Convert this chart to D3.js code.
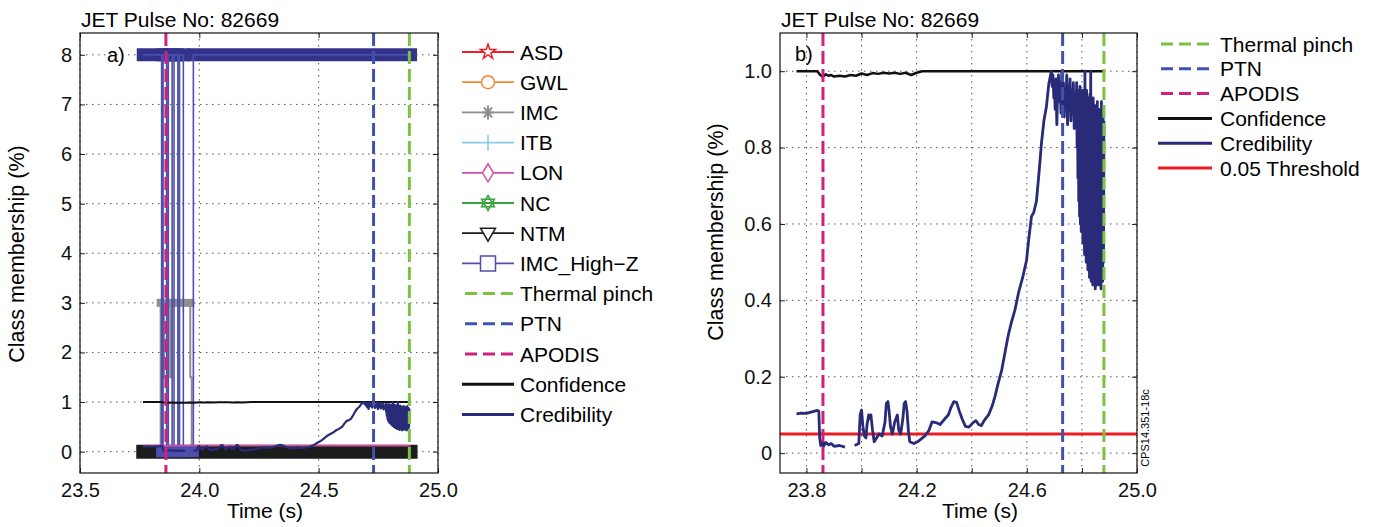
<!DOCTYPE html>
<html>
<head>
<meta charset="utf-8">
<script src="https://cdn.jsdelivr.net/npm/d3@7"></script>
<style>
  body { margin: 0; background: #fff; }
  svg { font-family: "Liberation Sans", Arial, sans-serif; }
</style>
</head>
<body>
<div id="vis"></div>
<script>
// ---- data ----

// disruption predictor alarm times (s)
const eventNames = ["Thermal pinch", "PTN", "APODIS"];
const eventTimes = [24.88, 24.73, 23.86];

// confidence of the classifier
const confTime = [23.764, 23.84, 23.85, 23.86, 23.87, 23.88, 23.89, 23.9, 23.92, 23.94, 23.96, 23.98, 24.0, 24.02,
  24.04, 24.06, 24.08, 24.1, 24.12, 24.14, 24.16, 24.18, 24.2, 24.22, 24.88];
const confValue = [1.0, 1.0, 0.99, 0.985, 0.992, 0.988, 0.99, 0.986, 0.988, 0.986, 0.99, 0.988, 0.994, 0.99,
  0.995, 0.993, 0.996, 0.994, 0.996, 0.993, 0.996, 0.99, 0.996, 1.0, 1.0];

// credibility (NaN = no output)
const credTime = [23.764, 23.78, 23.8, 23.82, 23.84, 23.845, 23.848, 23.852, 23.858, 23.862, 23.87, 23.88, 23.89, 23.9,
  23.92, 23.94, 23.96, 23.975, 23.99, 23.995, 24.0, 24.005, 24.01, 24.016, 24.02, 24.026, 24.03, 24.034, 24.04,
  24.046, 24.055, 24.064, 24.075, 24.085, 24.09, 24.096, 24.1, 24.105, 24.112, 24.12, 24.13, 24.135, 24.142,
  24.15, 24.155, 24.16, 24.165, 24.17, 24.175, 24.19, 24.208, 24.23, 24.245, 24.256, 24.27, 24.285, 24.3,
  24.315, 24.325, 24.335, 24.345, 24.355, 24.365, 24.377, 24.39, 24.405, 24.415, 24.425, 24.435, 24.445,
  24.461, 24.475, 24.485, 24.495, 24.509, 24.52, 24.533, 24.545, 24.557, 24.57, 24.585, 24.599, 24.607,
  24.617, 24.625, 24.635, 24.645, 24.653, 24.662, 24.671, 24.68, 24.689, 24.692, 24.695, 24.698, 24.7,
  24.703, 24.706, 24.709, 24.712, 24.715, 24.718, 24.721, 24.724, 24.727, 24.73, 24.733, 24.736, 24.739,
  24.742, 24.745, 24.748, 24.751, 24.754, 24.757, 24.76, 24.763, 24.766, 24.769, 24.772, 24.775, 24.778,
  24.781, 24.7825, 24.784, 24.7855, 24.787, 24.7885, 24.79, 24.7915, 24.793, 24.7945, 24.796, 24.7975,
  24.799, 24.8005, 24.802, 24.8035, 24.805, 24.8065, 24.808, 24.8095, 24.811, 24.8125, 24.814, 24.8155,
  24.817, 24.8185, 24.82, 24.8215, 24.823, 24.8245, 24.826, 24.8275, 24.829, 24.8305, 24.832, 24.8335,
  24.835, 24.8365, 24.838, 24.8395, 24.841, 24.8425, 24.844, 24.8455, 24.847, 24.8485, 24.85, 24.8515,
  24.853, 24.8545, 24.856, 24.8575, 24.859, 24.8605, 24.862, 24.8635, 24.865, 24.8665, 24.868, 24.8695,
  24.871, 24.8725, 24.874, 24.8755, 24.877, 24.8785, 24.88];
const credValue = [0.103, 0.105, 0.104, 0.108, 0.112, 0.11, 0.04, 0.02, 0.03, 0.018, 0.028, 0.022, 0.025, 0.018,
  0.02, 0.016, NaN, 0.02, 0.025, 0.1, 0.113, 0.07, 0.045, 0.04, 0.075, 0.1, 0.09, 0.1, 0.06,
  0.03, 0.04, 0.05, 0.045, 0.08, 0.13, 0.135, 0.11, 0.07, 0.05, 0.08, 0.1, 0.06, 0.05,
  0.09, 0.13, 0.135, 0.11, 0.06, 0.03, 0.025, 0.032, 0.045, 0.06, 0.082, 0.08, 0.075, 0.088,
  0.1, 0.12, 0.135, 0.133, 0.11, 0.09, 0.07, 0.068, 0.08, 0.085, 0.075, 0.072, 0.085,
  0.1, 0.125, 0.15, 0.18, 0.218, 0.26, 0.31, 0.345, 0.375, 0.42, 0.46, 0.505, 0.56,
  0.62, 0.63, 0.66, 0.74, 0.81, 0.87, 0.906, 0.968, 1.0, 0.96, 0.99, 0.93, 0.97,
  0.9, 0.98, 0.86, 0.95, 0.99, 0.92, 0.97, 0.89, 1.0, 0.93, 0.97, 0.88, 0.95,
  0.91, 0.99, 0.86, 0.96, 0.9, 0.98, 0.87, 0.95, 0.89, 0.97, 0.85, 0.93, 0.88,
  0.97, 0.8, 0.93, 0.72, 0.95, 0.66, 0.9, 0.62, 0.96, 0.6, 0.92, 0.58,
  0.94, 0.6, 0.95, 0.55, 0.9, 0.57, 0.93, 0.52, 1.0, 0.55, 0.92, 0.5,
  0.95, 0.53, 0.9, 0.48, 0.93, 0.5, 0.88, 0.46, 0.94, 0.5, 1.0, 0.45,
  0.92, 0.48, 0.9, 0.44, 0.93, 0.5, 0.88, 0.45, 0.91, 0.43, 0.9, 0.47,
  0.88, 0.44, 0.92, 0.5, 0.86, 0.46, 0.9, 0.44, 0.85, 0.48, 0.88, 0.43,
  0.92, 0.47, 0.86, 0.45, 0.88, 0.5, 0.87];

// panel a) outputs of the individual classes
const highZTime = [23.765, 23.842, 23.842, 23.848, 23.848, 23.863, 23.863, 23.870, 23.870, 23.886, 23.886,
  23.894, 23.894, 23.910, 23.910, 23.917, 23.917, 23.933, 23.933, 23.975, 23.975, 24.885];
const highZValue = [8, 8, 0, 0, 8, 8, 0, 0, 8, 8, 0, 0, 8, 8, 0, 0, 8, 8, 0, 0, 8, 8];
const imcTime = [23.765, 23.838, 23.838, 23.848, 23.848, 23.852, 23.852, 23.878, 23.878, 23.884, 23.884,
  23.962, 23.962, 23.968, 23.968, 24.885];
const imcValue = [0, 0, 3, 3, 1.5, 1.5, 3, 3, 1.5, 1.5, 3, 3, 1.5, 1.5, 0, 0];
const ntmTime = [23.765, 24.885];
const ntmValue = [0, 0];
const lonTime = [23.765, 24.885];
const lonValue = [0.12, 0.12];

const threshold = 0.05;

// ticks
const xTicksA = [23.5, 24.0, 24.5, 25.0];
const yTicksA = [0, 1, 2, 3, 4, 5, 6, 7, 8];
const xGridB = [23.8, 24.0, 24.2, 24.4, 24.6, 24.8, 25.0];
const xTicksB = [23.8, 24.2, 24.6, 25.0];
const yTicksB = [0, 0.2, 0.4, 0.6, 0.8, 1.0];

// legends
const legendA = ["ASD", "GWL", "IMC", "ITB", "LON", "NC", "NTM", "IMC_High\u2212Z", "Thermal pinch", "PTN",
  "APODIS", "Confidence", "Credibility"];
const legendB = ["Thermal pinch", "PTN", "APODIS", "Confidence", "Credibility", "0.05 Threshold"];

// ---- styles ----
const col = {
  ASD: "#e8202a", GWL: "#f4893a", IMC: "#8e8e8e", ITB: "#86cde6", LON: "#d24fa6", NC: "#3aa53f",
  NTM: "#1c1c1c", HighZ: "#4e4eae", "Thermal pinch": "#7cc242", PTN: "#4152ad", APODIS: "#d0207f",
  Confidence: "#111", Credibility: "#292a78", Threshold: "#ec1c24"
};

const W = 1381, H = 527;
const svg = d3.select("#vis").append("svg").attr("width", W).attr("height", H);

const zip = (t, v) => t.map((d, i) => [d, v[i]]);

function panel(opts) {
  const g = svg.append("g").attr("transform", `translate(${opts.left},${opts.top})`);
  const x = d3.scaleLinear().domain(opts.xDomain).range([0, opts.width]);
  const y = d3.scaleLinear().domain(opts.yDomain).range([opts.height, 0]);

  g.append("clipPath").attr("id", opts.id).append("rect")
    .attr("width", opts.width).attr("height", opts.height);

  // dotted grid
  g.selectAll(".gx").data(opts.xGrid).join("line")
    .attr("x1", d => x(d)).attr("x2", d => x(d)).attr("y1", 0).attr("y2", opts.height)
    .attr("stroke", "#555").attr("stroke-dasharray", "1.5,4.5");
  g.selectAll(".gy").data(opts.yTicks).join("line")
    .attr("x1", 0).attr("x2", opts.width).attr("y1", d => y(d)).attr("y2", d => y(d))
    .attr("stroke", "#555").attr("stroke-dasharray", "1.5,4.5");

  const plot = g.append("g").attr("clip-path", `url(#${opts.id})`);

  // axes, ticks pointing inward on all four sides
  g.append("g").call(d3.axisLeft(y).tickValues(opts.yTicks).tickSize(-5).tickPadding(8).tickFormat(opts.fmtY));
  g.append("g").attr("transform", `translate(${opts.width},0)`)
    .call(d3.axisRight(y).tickValues(opts.yTicks).tickSize(-5).tickFormat(""));
  g.append("g").attr("transform", `translate(0,${opts.height})`)
    .call(d3.axisBottom(x).tickValues(opts.xGrid).tickSize(-5).tickPadding(10)
      .tickFormat(d => opts.xTicks.some(v => Math.abs(v - d) < 1e-9) ? d3.format(".1f")(d) : ""));
  g.append("g").call(d3.axisTop(x).tickValues(opts.xGrid).tickSize(-5).tickFormat(""));
  g.selectAll(".domain").remove();
  g.selectAll(".tick text").attr("font-size", 20).attr("fill", "#111").attr("font-family", null);
  g.selectAll(".tick line").attr("stroke", "#222");

  g.append("rect").attr("width", opts.width).attr("height", opts.height)
    .attr("fill", "none").attr("stroke", "#111").attr("stroke-width", 1.2);

  // title and axis labels
  svg.append("text").attr("x", opts.left + 1).attr("y", 27).attr("font-size", 21).text("JET Pulse No: 82669");
  svg.append("text").attr("x", opts.xLabelX).attr("y", 518).attr("text-anchor", "middle")
    .attr("font-size", 21).text("Time (s)");
  svg.append("text").attr("transform", `translate(${opts.yLabelX},${opts.yLabelY}) rotate(-90)`)
    .attr("text-anchor", "middle").attr("font-size", 21.5).text("Class membership (%)");
  g.append("text").attr("x", opts.tagX).attr("y", y(opts.tagY)).attr("dy", "0.35em")
    .attr("font-size", 20).text(opts.tag);

  return { g, plot, x, y };
}

// horizontal runs of a step series, drawn thick to look like overlapping markers
function runs(pts) {
  const out = [];
  for (let i = 1; i < pts.length; i++) {
    if (pts[i][1] === pts[i - 1][1] && pts[i][0] > pts[i - 1][0]) out.push([pts[i - 1], pts[i]]);
  }
  return out;
}

function band(plot, x, y, segs, color, width) {
  plot.selectAll(null).data(segs).join("line")
    .attr("x1", d => x(d[0][0])).attr("x2", d => x(d[1][0]))
    .attr("y1", d => y(d[0][1])).attr("y2", d => y(d[1][1]))
    .attr("stroke", color).attr("stroke-width", width).attr("stroke-linecap", "square");
}

function trace(plot, x, y, pts, color, width) {
  const line = d3.line().defined(d => !isNaN(d[1])).x(d => x(d[0])).y(d => y(d[1]));
  plot.append("path").attr("d", line(pts)).attr("fill", "none")
    .attr("stroke", color).attr("stroke-width", width).attr("stroke-linejoin", "round");
}

function events(plot, x, height) {
  plot.selectAll(null).data(eventNames).join("line")
    .attr("x1", (d, i) => x(eventTimes[i])).attr("x2", (d, i) => x(eventTimes[i]))
    .attr("y1", 0).attr("y2", height)
    .attr("stroke", d => col[d]).attr("stroke-width", 3).attr("stroke-dasharray", "13,5");
}

// ---- panel a) ----
const A = panel({
  id: "clipA", left: 80, top: 33, width: 358, height: 440,
  xDomain: [23.5, 25.0], yDomain: [-0.43, 8.44], xGrid: xTicksA, xTicks: xTicksA, yTicks: yTicksA,
  fmtY: d3.format("d"), xLabelX: 265, yLabelX: 24, yLabelY: 254, tag: "a)", tagX: 27, tagY: 8
});
const imcPts = zip(imcTime, imcValue);
const highZPts = zip(highZTime, highZValue);
band(A.plot, A.x, A.y, runs(imcPts).filter(s => s[0][1] === 3), col.IMC, 8);
trace(A.plot, A.x, A.y, imcPts, col.IMC, 2);
band(A.plot, A.x, A.y, runs(zip(ntmTime, ntmValue)), col.NTM, 14);
band(A.plot, A.x, A.y, runs(highZPts).filter(s => s[0][1] === 8), "#33338c", 13);
band(A.plot, A.x, A.y, runs(highZPts).filter(s => s[0][1] === 0), col.HighZ, 11);
trace(A.plot, A.x, A.y, highZPts, col.HighZ, 1.6);
trace(A.plot, A.x, A.y, zip(lonTime, lonValue), col.LON, 1.8);
trace(A.plot, A.x, A.y, zip(confTime, confValue), col.Confidence, 2);
trace(A.plot, A.x, A.y, zip(credTime, credValue), col.Credibility, 2.2);
events(A.plot, A.x, 440);

// ---- panel b) ----
const B = panel({
  id: "clipB", left: 780, top: 33, width: 357, height: 440,
  xDomain: [23.704, 25.0], yDomain: [-0.052, 1.1], xGrid: xGridB, xTicks: xTicksB, yTicks: yTicksB,
  fmtY: d => d === 0 ? "0" : d3.format(".1f")(d), xLabelX: 980, yLabelX: 723, yLabelY: 232,
  tag: "b)", tagX: 15, tagY: 1.045
});
B.plot.append("line").attr("x1", 0).attr("x2", 357).attr("y1", B.y(threshold)).attr("y2", B.y(threshold))
  .attr("stroke", col.Threshold).attr("stroke-width", 3);
trace(B.plot, B.x, B.y, zip(confTime, confValue), col.Confidence, 2.5);
trace(B.plot, B.x, B.y, zip(credTime, credValue), col.Credibility, 2.8);
events(B.plot, B.x, 440);

svg.append("text").attr("transform", "translate(1149,428) rotate(-90)").attr("text-anchor", "middle")
  .attr("font-size", 11).text("CPS14.351-18c");

// ---- legends ----
const markers = {
  ASD: g => g.append("path").attr("d", d3.symbol(d3.symbolStar, 70)()),
  GWL: g => g.append("circle").attr("r", 6.5),
  IMC: g => g.append("path").attr("d", "M-6,0H6M0,-7V7M-4,-5L4,5M-4,5L4,-5").attr("stroke-width", 2),
  ITB: g => g.append("path").attr("d", "M0,-8V8"),
  LON: g => g.append("path").attr("d", "M0,-9L5.5,0L0,9L-5.5,0Z"),
  NC: g => g.append("path").attr("d", "M0,-7.5L6.5,3.75L-6.5,3.75ZM0,7.5L6.5,-3.75L-6.5,-3.75Z"),
  NTM: g => g.append("path").attr("d", "M-7.5,-5H7.5L0,8Z"),
  "IMC_High\u2212Z": g => g.append("path").attr("d", "M-7.5,-7.5H7.5V7.5H-7.5Z")
};
const legendColor = n => n === "IMC_High\u2212Z" ? col.HighZ : n === "0.05 Threshold" ? col.Threshold : col[n];

function legend(items, x0, x1, tx, y0, step) {
  const rows = svg.selectAll(null).data(items).join("g")
    .attr("transform", (d, i) => `translate(0,${y0 + i * step})`);
  rows.each(function (d) {
    const r = d3.select(this);
    const c = legendColor(d);
    const dashed = eventNames.includes(d);
    const solid = ["Confidence", "Credibility", "0.05 Threshold"].includes(d);
    r.append("line").attr("x1", dashed ? x0 + 3 : x0).attr("x2", x1)
      .attr("stroke", c).attr("stroke-width", dashed || solid ? 3 : 1.8)
      .attr("stroke-dasharray", dashed ? "12,6" : null);
    if (markers[d]) {
      const m = r.append("g").attr("transform", `translate(${(x0 + x1) / 2},0)`)
        .attr("fill", "#fff").attr("stroke", c).attr("stroke-width", 1.5);
      markers[d](m);
    }
    r.append("text").attr("x", tx).attr("dy", "0.36em").attr("font-size", 21).text(d);
  });
}
legend(legendA, 462, 514, 520, 52, 30.2);
legend(legendB, 1158, 1212, 1220, 44, 24.8);
</script>
</body>
</html>
